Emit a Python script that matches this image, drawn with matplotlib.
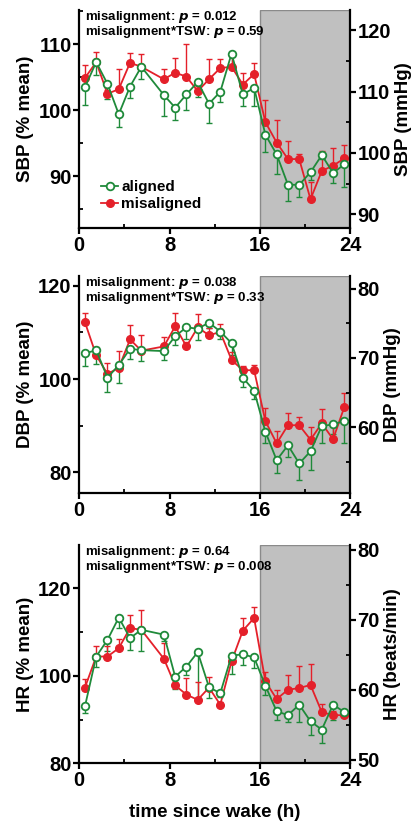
import matplotlib
matplotlib.use('Agg')
import matplotlib.pyplot as plt
from matplotlib.ticker import MultipleLocator

plt.rcParams['font.family'] = ['Liberation Sans', 'DejaVu Sans']
plt.rcParams['font.weight'] = 'bold'

# time since wake (h), no sample at 6.5 h
hours = [0.5, 1.5, 2.5, 3.5, 4.5, 5.5, 7.5, 8.5, 9.5, 10.5, 11.5, 12.5,
         13.5, 14.5, 15.5, 16.5, 17.5, 18.5, 19.5, 20.5, 21.5, 22.5, 23.5]

# SBP (% mean)
sbp_aligned = [103.5, 107.3, 104.0, 99.4, 103.6, 106.6, 102.3, 100.4, 102.4, 104.3, 101.0, 102.8,
               108.6, 102.4, 103.4, 96.3, 93.3, 88.7, 88.7, 90.6, 93.2, 90.5, 91.8]
sbp_aligned_sem = [2.7, 2.0, 2.3, 1.9, 1.7, 1.9, 3.1, 1.9, 2.4, 2.3, 2.9, 1.5,
                   2.0, 1.8, 2.7, 2.6, 2.9, 2.5, 1.9, 1.1, 0.6, 1.6, 3.5]
sbp_misaligned = [104.9, 107.3, 102.5, 103.2, 107.2, 106.6, 104.7, 105.7, 105.1, 102.9, 104.7, 106.4,
                  106.6, 103.9, 105.5, 98.2, 95.1, 92.6, 92.6, 86.5, 90.8, 91.6, 92.7]
sbp_misaligned_sem = [1.9, 1.5, 0.5, 3.1, 1.5, 2.0, 1.5, 2.3, 4.9, 0.8, 3.0, 1.4,
                      1.6, 1.8, 1.7, 3.4, 3.4, 2.8, 0.7, 2.6, 3.0, 2.7, 2.0]

# DBP (% mean)
dbp_aligned = [105.5, 106.2, 100.3, 103.0, 106.5, 106.2, 106.0, 109.2, 111.1, 110.8, 112.1, 110.2,
               107.7, 100.3, 97.5, 88.7, 82.6, 85.8, 81.9, 84.5, 89.9, 90.3, 91.0]
dbp_aligned_sem = [2.7, 3.0, 3.0, 3.9, 2.1, 2.3, 1.9, 1.9, 2.5, 2.4, 1.2, 1.5,
                   2.5, 1.9, 1.7, 2.5, 2.7, 2.5, 3.5, 3.9, 3.6, 2.0, 4.7]
dbp_misaligned = [112.2, 105.1, 101.1, 102.4, 108.5, 106.1, 107.0, 111.3, 107.0, 111.1, 109.4, 110.1,
                  104.1, 101.9, 101.9, 91.0, 86.2, 90.1, 90.1, 87.0, 90.5, 87.1, 94.0]
dbp_misaligned_sem = [1.9, 1.7, 2.3, 3.7, 3.0, 3.4, 2.1, 2.8, 1.0, 2.8, 1.5, 1.7,
                      1.6, 0.8, 1.1, 2.8, 2.6, 2.7, 1.8, 2.7, 3.0, 2.6, 3.1]

# HR (% mean)
hr_aligned = [93.0, 104.4, 108.2, 113.3, 108.6, 110.5, 109.4, 99.8, 102.1, 105.4, 97.4, 96.0,
              104.6, 104.9, 104.2, 97.7, 91.9, 91.0, 93.4, 89.6, 87.7, 93.4, 91.7]
hr_aligned_sem = [1.4, 2.5, 2.6, 2.4, 2.8, 4.8, 1.4, 2.8, 2.0, 10.5, 2.5, 0.9,
                  4.1, 2.4, 2.5, 2.0, 1.9, 1.6, 4.0, 3.1, 3.1, 3.4, 0.6]
hr_misaligned = [97.3, 104.4, 104.4, 106.3, 110.9, 110.5, 103.9, 97.8, 95.7, 94.5, 97.3, 93.4,
                 103.3, 110.3, 113.2, 98.7, 94.7, 96.8, 97.2, 97.9, 91.7, 91.0, 91.0]
hr_misaligned_sem = [1.9, 2.3, 2.4, 2.1, 3.0, 4.6, 3.6, 2.2, 3.9, 4.0, 2.5, 0.7,
                     1.9, 2.9, 2.4, 2.1, 2.0, 3.4, 5.1, 4.8, 1.8, 0.9, 1.2]

green = '#1f8a3a'
red = '#e4202a'

panels = [
    dict(al=sbp_aligned, al_e=sbp_aligned_sem, mis=sbp_misaligned, mis_e=sbp_misaligned_sem,
         ylabel='SBP (% mean)', rlabel='SBP (mmHg)', ylim=(82.1, 115.2), rlim=(87.7, 123.3),
         major=10, minor=5, rmajor=10, rminor=5,
         stats=('0.012', '0.59'), pos=[0.1906, 0.7226, 0.6507, 0.2652]),
    dict(al=dbp_aligned, al_e=dbp_aligned_sem, mis=dbp_misaligned, mis_e=dbp_misaligned_sem,
         ylabel='DBP (% mean)', rlabel='DBP (mmHg)', ylim=(75.5, 122.1), rlim=(50.5, 81.8),
         major=20, minor=10, rmajor=10, rminor=5,
         stats=('0.038', '0.33'), pos=[0.1906, 0.4006, 0.6507, 0.2640]),
    dict(al=hr_aligned, al_e=hr_aligned_sem, mis=hr_misaligned, mis_e=hr_misaligned_sem,
         ylabel='HR (% mean)', rlabel='HR (beats/min)', ylim=(80, 129.8), rlim=(49.5, 80.6),
         major=20, minor=10, rmajor=10, rminor=5,
         stats=('0.64', '0.008'), pos=[0.1906, 0.0725, 0.6507, 0.2649]),
]

fig = plt.figure(figsize=(4.16, 8.23), dpi=100)

for i, p in enumerate(panels):
    ax = fig.add_axes(p['pos'])
    ax.axvspan(16, 24, facecolor='#c0c0c0', edgecolor='#8a8a8a', linewidth=1.0, zorder=0)

    zeros = [0] * len(hours)
    # aligned: error bars drawn downwards, misaligned: upwards
    ax.errorbar(hours, p['al'], yerr=[p['al_e'], zeros], fmt='none', ecolor=green,
                elinewidth=1.0, capsize=2.5, capthick=1.0, zorder=2)
    ax.errorbar(hours, p['mis'], yerr=[zeros, p['mis_e']], fmt='none', ecolor=red,
                elinewidth=1.0, capsize=2.5, capthick=1.0, zorder=2)
    ax.plot(hours, p['mis'], '-o', color=red, markersize=5.5, linewidth=1.3,
            label='misaligned', zorder=3)
    ax.plot(hours, p['al'], '-o', color=green, markerfacecolor='white', markeredgewidth=1.3,
            markersize=5.5, linewidth=1.3, label='aligned', zorder=4)

    ax.set_xlim(0, 24)
    ax.set_ylim(*p['ylim'])
    ax.xaxis.set_major_locator(MultipleLocator(8))
    ax.xaxis.set_minor_locator(MultipleLocator(4))
    ax.yaxis.set_major_locator(MultipleLocator(p['major']))
    ax.yaxis.set_minor_locator(MultipleLocator(p['minor']))
    ax.spines['top'].set_visible(False)
    ax.spines['right'].set_visible(False)
    for s in ['left', 'bottom']:
        ax.spines[s].set_linewidth(1.6)
    ax.tick_params(which='major', direction='out', length=4, width=1.6, labelsize=14.5, pad=1.5)
    ax.tick_params(which='minor', direction='in', length=3, width=1.3)
    ax.set_ylabel(p['ylabel'], fontsize=13.5, fontweight='bold', labelpad=3)

    ax2 = ax.twinx()
    ax2.set_ylim(*p['rlim'])
    ax2.yaxis.set_major_locator(MultipleLocator(p['rmajor']))
    ax2.yaxis.set_minor_locator(MultipleLocator(p['rminor']))
    for s in ['left', 'top', 'bottom']:
        ax2.spines[s].set_visible(False)
    ax2.spines['right'].set_linewidth(1.6)
    ax2.tick_params(which='major', direction='out', length=4, width=1.6, labelsize=14.5, pad=1.5)
    ax2.tick_params(which='minor', direction='in', length=3, width=1.3)
    ax2.set_ylabel(p['rlabel'], fontsize=13.5, fontweight='bold', rotation=90, labelpad=3)

    ax.text(0.022, 0.968, 'misalignment: $\\bf{\\it{p}}$ = ' + p['stats'][0],
            transform=ax.transAxes, fontsize=9.5, fontweight='bold', va='center', ha='left')
    ax.text(0.022, 0.899, 'misalignment*TSW: $\\bf{\\it{p}}$ = ' + p['stats'][1],
            transform=ax.transAxes, fontsize=9.5, fontweight='bold', va='center', ha='left')

    if i == 0:
        h, l = ax.get_legend_handles_labels()
        ax.legend(h[::-1], l[::-1], loc='lower left', bbox_to_anchor=(0.03, 0.015),
                  frameon=False, handlelength=1.1, handletextpad=0.2, labelspacing=0.2,
                  prop={'size': 11, 'weight': 'bold'})
    if i == 2:
        ax.set_xlabel('time since wake (h)', fontsize=13.5, fontweight='bold', labelpad=10)

fig.savefig('out.png', dpi=100)
